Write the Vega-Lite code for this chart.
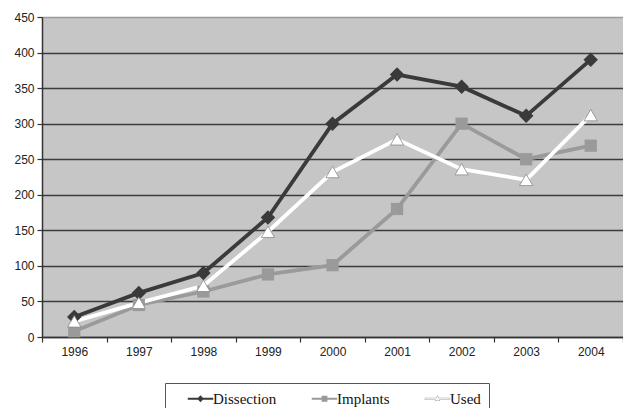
{
  "$schema": "https://vega.github.io/schema/vega-lite/v6.json",
  "width": 581,
  "height": 320,
  "autosize": {"type": "none"},
  "padding": {"left": 42, "top": 17, "right": 0, "bottom": 71},
  "background": "white",
  "config": {
    "view": {"fill": "#c6c6c6", "stroke": null},
    "axis": {"labelFont": "Liberation Sans", "labelFontSize": 12, "labelColor": "#222", "domainColor": "#333", "domainWidth": 1.5, "tickColor": "#333", "tickWidth": 1.2, "tickSize": 5, "title": null}
  },
  "data": {"values": [
    {"year": "1996", "series": "Dissection", "value": 28},
    {"year": "1997", "series": "Dissection", "value": 62},
    {"year": "1998", "series": "Dissection", "value": 90},
    {"year": "1999", "series": "Dissection", "value": 168},
    {"year": "2000", "series": "Dissection", "value": 300},
    {"year": "2001", "series": "Dissection", "value": 369},
    {"year": "2002", "series": "Dissection", "value": 352},
    {"year": "2003", "series": "Dissection", "value": 311},
    {"year": "2004", "series": "Dissection", "value": 390},
    {"year": "1996", "series": "Implants", "value": 8},
    {"year": "1997", "series": "Implants", "value": 45},
    {"year": "1998", "series": "Implants", "value": 64},
    {"year": "1999", "series": "Implants", "value": 88},
    {"year": "2000", "series": "Implants", "value": 101},
    {"year": "2001", "series": "Implants", "value": 180},
    {"year": "2002", "series": "Implants", "value": 300},
    {"year": "2003", "series": "Implants", "value": 250},
    {"year": "2004", "series": "Implants", "value": 269},
    {"year": "1996", "series": "Used", "value": 22},
    {"year": "1997", "series": "Used", "value": 48},
    {"year": "1998", "series": "Used", "value": 72},
    {"year": "1999", "series": "Used", "value": 148},
    {"year": "2000", "series": "Used", "value": 232},
    {"year": "2001", "series": "Used", "value": 278},
    {"year": "2002", "series": "Used", "value": 236},
    {"year": "2003", "series": "Used", "value": 221},
    {"year": "2004", "series": "Used", "value": 312}
  ]},
  "encoding": {
    "x": {"field": "year", "type": "ordinal", "scale": {"type": "band", "paddingInner": 0, "paddingOuter": 0},
      "axis": {"labelAngle": 0, "tickBand": "extent", "labelPadding": 4, "grid": false}},
    "y": {"field": "value", "type": "quantitative", "scale": {"domain": [0, 450], "nice": false},
      "axis": {"values": [0, 50, 100, 150, 200, 250, 300, 350, 400, 450], "labelPadding": 3, "grid": true,
        "gridColor": {"condition": {"test": "datum.value == 450", "value": "#9a9a9a"}, "value": "#3c3c3c"}, "gridWidth": 1.4}}
  },
  "layer": [
    {"mark": {"type": "line", "strokeWidth": 3.8},
     "encoding": {
       "color": {"field": "series", "type": "nominal",
         "scale": {"domain": ["Dissection", "Implants", "Used"], "range": ["#3a3a3a", "#9a9a9a", "#ffffff"]}, "legend": null}
     }},
    {"mark": {"type": "point", "filled": true, "opacity": 1},
     "encoding": {
       "color": {"field": "series", "type": "nominal",
         "scale": {"domain": ["Dissection", "Implants", "Used"], "range": ["#3a3a3a", "#9a9a9a", "#ffffff"]}, "legend": null},
       "shape": {"condition": [{"test": "datum.series == 'Dissection'", "value": "diamond"}, {"test": "datum.series == 'Implants'", "value": "square"}], "value": "triangle-up"},
       "size": {"condition": [{"test": "datum.series == 'Dissection'", "value": 210}, {"test": "datum.series == 'Implants'", "value": 150}], "value": 175},
       "stroke": {"condition": {"test": "datum.series == 'Used'", "value": "#8a8a8a"}, "value": null},
       "strokeWidth": {"value": 0.8}
     }},
    {"transform": [{"filter": "datum.value < 0"}],
     "mark": {"type": "point", "filled": true, "opacity": 1, "size": 100, "strokeWidth": 0},
     "encoding": {
       "color": {"field": "series", "type": "nominal",
         "scale": {"domain": ["Dissection", "Implants", "Used"], "range": ["#3a3a3a", "#9a9a9a", "#a0a0a0"]},
         "legend": {
           "title": null, "orient": "none", "direction": "horizontal", "legendX": 123, "legendY": 366,
           "labelFont": "Liberation Serif", "labelFontSize": 15, "labelColor": "#111",
           "strokeColor": "#555", "fillColor": "white", "padding": 8,
           "symbolSize": 100, "symbolStrokeWidth": 0, "symbolOffset": 20, "labelOffset": 5, "columnPadding": 20
         }},
       "shape": {"field": "series", "type": "nominal",
         "scale": {"domain": ["Dissection", "Implants", "Used"], "range": [
           "M-2.55,-0.22L2.55,-0.22L2.55,0.22L-2.55,0.22Z M0,-0.68L0.68,0L0,0.68L-0.68,0Z",
           "M-2.55,-0.22L2.55,-0.22L2.55,0.22L-2.55,0.22Z M-0.58,-0.58L0.58,-0.58L0.58,0.58L-0.58,0.58Z",
           "M-2.55,-0.22L-0.27,-0.22L0,-0.75L0.27,-0.22L2.55,-0.22L2.55,0.22L0.45,0.22L0.55,0.45L-0.55,0.45L-0.45,0.22L-2.55,0.22Z M-2.44,0.11L-0.35,0.11L-0.4,0.34L0.4,0.34L0.35,0.11L2.44,0.11L2.44,-0.11L0.21,-0.11L0,-0.52L-0.21,-0.11L-2.44,-0.11Z"]},
         "legend": {
           "title": null, "orient": "none", "direction": "horizontal", "legendX": 123, "legendY": 366,
           "labelFont": "Liberation Serif", "labelFontSize": 15, "labelColor": "#111",
           "strokeColor": "#555", "fillColor": "white", "padding": 8,
           "symbolSize": 100, "symbolStrokeWidth": 0, "symbolOffset": 20, "labelOffset": 5, "columnPadding": 20
         }}
     }}
  ],
  "resolve": {"scale": {"color": "independent", "shape": "independent"}, "legend": {"color": "independent", "shape": "independent"}}
}
